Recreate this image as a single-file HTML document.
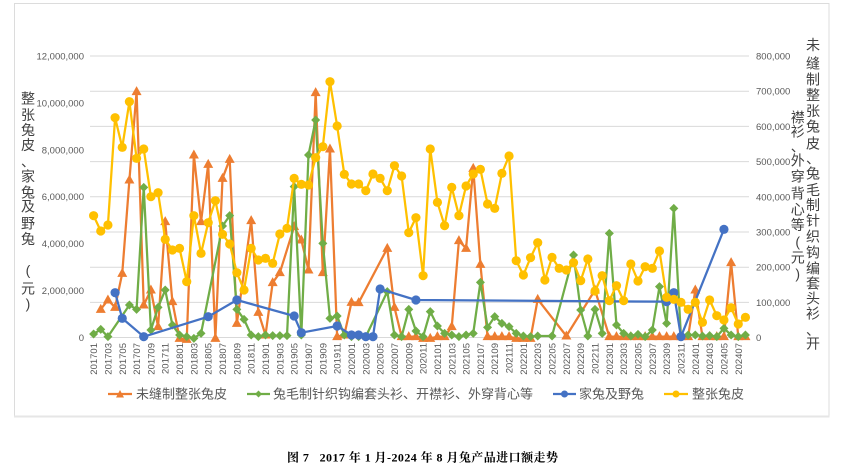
<!DOCTYPE html>
<html><head><meta charset="utf-8">
<style>
html,body{margin:0;padding:0;background:#fff;}
body{width:843px;height:470px;overflow:hidden;}
svg{display:block;}
.tk{font-family:"Liberation Sans","Noto Sans CJK SC",sans-serif;font-size:9.5px;fill:#595959;}
.ttl{font-family:"Liberation Sans","Noto Sans CJK SC",sans-serif;font-size:14px;fill:#404040;text-anchor:middle;}
.lg{font-family:"Liberation Sans","Noto Sans CJK SC",sans-serif;font-size:13px;fill:#595959;}
.cap{font-family:"Liberation Serif","Noto Serif CJK SC",serif;font-size:12px;font-weight:bold;fill:#000;}
</style></head>
<body>
<svg id="c" width="843" height="470" viewBox="0 0 843 470" xmlns="http://www.w3.org/2000/svg">
<rect x="14.5" y="3.5" width="814.5" height="412.5" fill="#fff" stroke="#dcdcdc" stroke-width="1"/>
<line x1="14" y1="416.5" x2="829.5" y2="416.5" stroke="#e6e6e6" stroke-width="2"/>
<g stroke="#d9d9d9" stroke-width="1">
<line x1="90" y1="56" x2="749" y2="56"/>
<line x1="90" y1="91.2" x2="749" y2="91.2"/>
<line x1="90" y1="126.4" x2="749" y2="126.4"/>
<line x1="90" y1="161.6" x2="749" y2="161.6"/>
<line x1="90" y1="196.8" x2="749" y2="196.8"/>
<line x1="90" y1="232" x2="749" y2="232"/>
<line x1="90" y1="267.2" x2="749" y2="267.2"/>
<line x1="90" y1="302.4" x2="749" y2="302.4"/>
<line x1="90" y1="337.5" x2="749" y2="337.5"/>
</g>
<g class="tk" text-anchor="end">
<text x="84" y="59.5">12,000,000</text>
<text x="84" y="106.4">10,000,000</text>
<text x="84" y="153.3">8,000,000</text>
<text x="84" y="200.2">6,000,000</text>
<text x="84" y="247.2">4,000,000</text>
<text x="84" y="294.1">2,000,000</text>
<text x="84" y="341">0</text>
</g>
<g class="tk" text-anchor="start">
<text x="756" y="59.5">800,000</text>
<text x="756" y="94.7">700,000</text>
<text x="756" y="129.9">600,000</text>
<text x="756" y="165.1">500,000</text>
<text x="756" y="200.3">400,000</text>
<text x="756" y="235.5">300,000</text>
<text x="756" y="270.7">200,000</text>
<text x="756" y="305.8">100,000</text>
<text x="756" y="341">0</text>
</g>
<g class="tk" text-anchor="end">
<text transform="translate(97.1,343) rotate(-90)">201701</text>
<text transform="translate(111.4,343) rotate(-90)">201703</text>
<text transform="translate(125.8,343) rotate(-90)">201705</text>
<text transform="translate(140.1,343) rotate(-90)">201707</text>
<text transform="translate(154.4,343) rotate(-90)">201709</text>
<text transform="translate(168.7,343) rotate(-90)">201711</text>
<text transform="translate(183.1,343) rotate(-90)">201801</text>
<text transform="translate(197.4,343) rotate(-90)">201803</text>
<text transform="translate(211.7,343) rotate(-90)">201805</text>
<text transform="translate(226,343) rotate(-90)">201807</text>
<text transform="translate(240.4,343) rotate(-90)">201809</text>
<text transform="translate(254.7,343) rotate(-90)">201811</text>
<text transform="translate(269,343) rotate(-90)">201901</text>
<text transform="translate(283.3,343) rotate(-90)">201903</text>
<text transform="translate(297.7,343) rotate(-90)">201905</text>
<text transform="translate(312,343) rotate(-90)">201907</text>
<text transform="translate(326.3,343) rotate(-90)">201909</text>
<text transform="translate(340.6,343) rotate(-90)">201911</text>
<text transform="translate(355,343) rotate(-90)">202001</text>
<text transform="translate(369.3,343) rotate(-90)">202003</text>
<text transform="translate(383.6,343) rotate(-90)">202005</text>
<text transform="translate(397.9,343) rotate(-90)">202007</text>
<text transform="translate(412.3,343) rotate(-90)">202009</text>
<text transform="translate(426.6,343) rotate(-90)">202011</text>
<text transform="translate(440.9,343) rotate(-90)">202101</text>
<text transform="translate(455.3,343) rotate(-90)">202103</text>
<text transform="translate(469.6,343) rotate(-90)">202105</text>
<text transform="translate(483.9,343) rotate(-90)">202107</text>
<text transform="translate(498.2,343) rotate(-90)">202109</text>
<text transform="translate(512.6,343) rotate(-90)">202111</text>
<text transform="translate(526.9,343) rotate(-90)">202201</text>
<text transform="translate(541.2,343) rotate(-90)">202203</text>
<text transform="translate(555.5,343) rotate(-90)">202205</text>
<text transform="translate(569.9,343) rotate(-90)">202207</text>
<text transform="translate(584.2,343) rotate(-90)">202209</text>
<text transform="translate(598.5,343) rotate(-90)">202211</text>
<text transform="translate(612.8,343) rotate(-90)">202301</text>
<text transform="translate(627.2,343) rotate(-90)">202303</text>
<text transform="translate(641.5,343) rotate(-90)">202305</text>
<text transform="translate(655.8,343) rotate(-90)">202307</text>
<text transform="translate(670.1,343) rotate(-90)">202309</text>
<text transform="translate(684.5,343) rotate(-90)">202311</text>
<text transform="translate(698.8,343) rotate(-90)">202401</text>
<text transform="translate(713.1,343) rotate(-90)">202403</text>
<text transform="translate(727.4,343) rotate(-90)">202405</text>
<text transform="translate(741.8,343) rotate(-90)">202407</text>
</g>
<!-- left axis title -->
<g class="ttl">
<text x="28" y="103.3">整</text>
<text x="28" y="120">张</text>
<text x="28" y="135">兔</text>
<text x="28" y="150">皮</text>
<text x="28" y="166.7">、</text>
<text x="28" y="181.7">家</text>
<text x="28" y="197.3">兔</text>
<text x="28" y="211.7">及</text>
<text x="28" y="228.3">野</text>
<text x="28" y="244">兔</text>
<text x="28" y="275">(</text>
<text x="28" y="293.3">元</text>
<text x="28" y="308.3">)</text>
</g>
<!-- right axis title -->
<g class="ttl">
<text x="813" y="50">未</text>
<text x="813" y="68.3">缝</text>
<text x="813" y="84.3">制</text>
<text x="813" y="100">整</text>
<text x="813" y="116">张</text>
<text x="813" y="131.7">兔</text>
<text x="813" y="148.3">皮</text>
<text x="813" y="163.3">、</text>
<text x="813" y="178.3">兔</text>
<text x="813" y="195">毛</text>
<text x="813" y="210">制</text>
<text x="813" y="225.7">针</text>
<text x="813" y="241.7">织</text>
<text x="813" y="257.3">钩</text>
<text x="813" y="273.3">编</text>
<text x="813" y="288.3">套</text>
<text x="813" y="303.3">头</text>
<text x="813" y="318.3">衫</text>
<text x="813" y="335">、</text>
<text x="813" y="348.3">开</text>
<text x="797.7" y="122.3">襟</text>
<text x="797.7" y="136.7">衫</text>
<text x="797.7" y="151.7">、</text>
<text x="797.7" y="165.7">外</text>
<text x="797.7" y="181.7">穿</text>
<text x="797.7" y="198.3">背</text>
<text x="797.7" y="214.3">心</text>
<text x="797.7" y="230">等</text>
<text x="797.7" y="246.7">(</text>
<text x="797.7" y="262.7">元</text>
<text x="797.7" y="278.3">)</text>
</g>
<g id="series"></g>
<!-- legend -->
<g>
<line x1="108" y1="394" x2="132" y2="394" stroke="#ED7D31" stroke-width="2.25"/>
<polygon points="120,390 124,397.5 116,397.5" fill="#ED7D31"/>
<text class="lg" x="136" y="398.5">未缝制整张兔皮</text>
<line x1="247" y1="394" x2="270" y2="394" stroke="#70AD47" stroke-width="2.25"/>
<polygon points="258.5,390.5 262,394 258.5,397.5 255,394" fill="#70AD47"/>
<text class="lg" x="273" y="398.5">兔毛制针织钩编套头衫、开襟衫、外穿背心等</text>
<line x1="553" y1="394" x2="576" y2="394" stroke="#4472C4" stroke-width="2.25"/>
<circle cx="564.5" cy="394" r="3.5" fill="#4472C4"/>
<text class="lg" x="579" y="398.5">家兔及野兔</text>
<line x1="664" y1="394" x2="688" y2="394" stroke="#FFC000" stroke-width="2.25"/>
<circle cx="676" cy="394" r="3.5" fill="#FFC000"/>
<text class="lg" x="692" y="398.5">整张兔皮</text>
</g>
<text class="cap" x="287" y="461.5" textLength="271" lengthAdjust="spacing" xml:space="preserve">图 7   2017 年 1 月-2024 年 8 月兔产品进口额走势</text>
</svg>
<script>
(function(){
var NS="http://www.w3.org/2000/svg";
var g=document.getElementById("series");
function X(i){return 93.6+7.163*i;}
function Y(z){return 70+z/3;}
var O=[null,718,690,712,610,330,65,705,660,770,455,695,805,808,255,455,283,805,325,268,760,null,452,727,795,638,608,null,470,510,600,68,608,237,800,795,697,698,null,null,null,535,712,800,800,800,805,805,800,800,770,512,535,295,583,800,800,800,800,805,805,805,688,null,null,null,798,null,null,null,660,null,800,800,800,800,800,800,800,800,800,800,800,800,660,800,800,800,800,578,800,800];
var G=[792,778,800,null,null,705,718,352,780,712,660,765,795,800,805,790,null,null,468,437,718,748,795,800,795,797,797,797,350,795,255,150,520,745,738,795,800,800,800,null,null,665,795,800,718,783,800,725,768,790,795,800,795,790,637,772,740,760,770,790,798,800,798,null,798,null,null,555,720,798,718,790,490,765,790,798,793,800,780,650,760,415,800,795,795,798,797,800,775,795,800,795];
var Yl=[437,483,465,143,232,95,265,237,380,368,508,540,535,635,437,550,458,392,493,522,608,660,535,570,565,580,492,475,325,343,345,263,230,35,168,313,342,342,362,312,325,362,287,318,488,443,617,237,397,467,352,437,348,312,298,402,415,310,258,572,615,563,518,630,562,595,600,578,632,567,663,617,692,647,692,582,633,590,595,543,682,688,697,718,697,757,690,737,750,713,762,742];
var bm={3:668,4:745,7:800,16:740,20:690,28:738,29:788,34:768,36:795,37:795,38:800,39:800,40:657,45:690,80:695,81:668,82:800,88:478};
var B=[];for(var i=0;i<92;i++){B.push(bm.hasOwnProperty(i)?bm[i]:null);}
function el(n,a){var e=document.createElementNS(NS,n);for(var k in a)e.setAttribute(k,a[k]);g.appendChild(e);return e;}
function draw(arr,color,mk){
  var pts=[];
  for(var i=0;i<arr.length;i++){if(arr[i]!==null)pts.push([X(i),Y(arr[i])]);}
  el("polyline",{points:pts.map(function(p){return p[0].toFixed(2)+","+p[1].toFixed(2);}).join(" "),fill:"none",stroke:color,"stroke-width":"2.25","stroke-linejoin":"round"});
  pts.forEach(function(p){
    var x=p[0],y=p[1];
    if(mk==="tri"){el("polygon",{points:x+","+(y-5.5)+" "+(x+5)+","+(y+3.5)+" "+(x-5)+","+(y+3.5),fill:color});}
    else if(mk==="dia"){el("polygon",{points:x+","+(y-4.5)+" "+(x+4.5)+","+y+" "+x+","+(y+4.5)+" "+(x-4.5)+","+y,fill:color});}
    else{el("circle",{cx:x,cy:y,r:"4.6",fill:color});}
  });
}
draw(O,"#ED7D31","tri");
draw(G,"#70AD47","dia");
draw(B,"#4472C4","cir");
draw(Yl,"#FFC000","cir");
})();
</script>
</body></html>
